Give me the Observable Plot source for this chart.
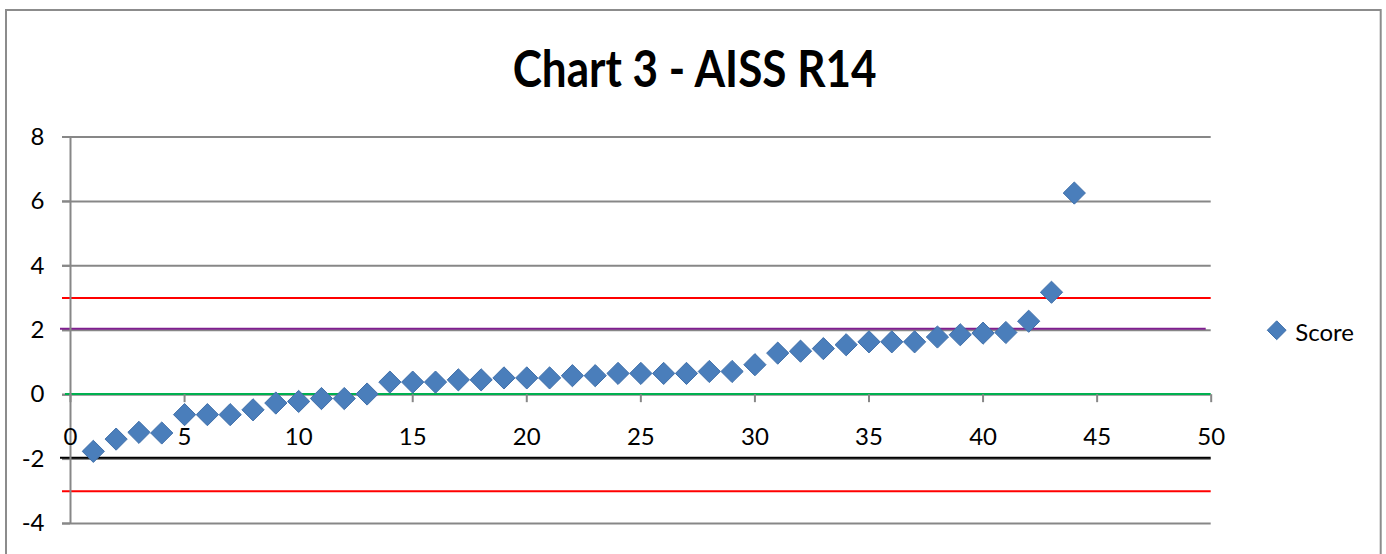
<!DOCTYPE html>
<html>
<head>
<meta charset="utf-8">
<script src="https://cdn.jsdelivr.net/npm/d3@7"></script>
<script src="https://cdn.jsdelivr.net/npm/@observablehq/plot@0.6"></script>
<style>
  html, body { margin: 0; padding: 0; background: #fff; }
  #chart { position: relative; width: 1386px; height: 554px; overflow: hidden; }
</style>
</head>
<body>
<div id="chart"></div>
<script>
// ---- data ----
const titleText = "Chart 3 - AISS R14";
const seriesName = "Score";
const rank = [1,2,3,4,5,6,7,8,9,10,11,12,13,14,15,16,17,18,19,20,21,22,23,24,25,26,27,28,29,30,31,32,33,34,35,36,37,38,39,40,41,42,43,44];
const score = [-1.76,-1.38,-1.17,-1.19,-0.62,-0.62,-0.62,-0.47,-0.26,-0.21,-0.12,-0.12,0.02,0.39,0.39,0.39,0.46,0.46,0.52,0.52,0.52,0.59,0.59,0.66,0.66,0.66,0.66,0.72,0.72,0.93,1.29,1.35,1.43,1.55,1.64,1.64,1.64,1.79,1.86,1.91,1.93,2.28,3.18,6.26];
const xTicks = [0,5,10,15,20,25,30,35,40,45,50];
const yTicks = [-4,-2,0,2,4,6,8];
const upperLimit = 3, lowerLimit = -3;
const upperWarn = 2.05, lowerWarn = -1.96;
const centreLine = 0.02;

const points = rank.map((r, i) => ({rank: r, score: score[i]}));

const gray = "#878787";
const font = "Lato, 'Open Sans', sans-serif";

const svg = Plot.plot({
  width: 1386,
  height: 554,
  marginTop: 136.5,
  marginBottom: 31,
  marginLeft: 70,
  marginRight: 175.3,
  style: {fontFamily: font, fontSize: "24px", background: "#fff", color: "#000", overflow: "visible"},
  x: {domain: [0, 50], axis: null},
  y: {domain: [-4, 8], axis: null},
  marks: [
    // gridlines
    Plot.ruleY(yTicks, {y: d => d, stroke: gray, strokeWidth: 2, insetLeft: -8}),
    // y axis ticks + labels
    Plot.axisY(yTicks, {anchor: "left", label: null, tickSize: 8, tickPadding: 18, stroke: gray, strokeWidth: 2,
      fill: "#000", fontSize: 24, tickFormat: d => String(d)}),
    // reference lines
    Plot.ruleY([upperLimit], {y: d => d, stroke: "#ff0000", strokeWidth: 2, insetLeft: -8}),
    Plot.ruleY([lowerLimit], {y: d => d, stroke: "#ff0000", strokeWidth: 2, insetLeft: -8}),
    Plot.ruleY([upperWarn], {y: d => d, stroke: "#7f1f8f", strokeWidth: 2, insetLeft: -10, insetRight: 5}),
    Plot.ruleY([lowerWarn], {y: d => d, stroke: "#000000", strokeWidth: 2, insetLeft: -10}),
    Plot.ruleY([centreLine], {y: d => d, stroke: "#00b050", strokeWidth: 2, insetLeft: -5}),
    // vertical axis line
    Plot.ruleX([0], {x: d => d, stroke: gray, strokeWidth: 2}),
    // x ticks at y = 0 crossing
    Plot.ruleX(xTicks, {x: d => d, y1: d => 0, y2: d => 0, insetBottom: -8, stroke: gray, strokeWidth: 2}),
    // x labels
    Plot.text(xTicks, {x: d => d, y: d => 0, dy: 43, text: d => String(d), fontSize: 24, fill: "#000"}),
    // data
    Plot.dot(points, {x: "rank", y: "score", symbol: "diamond2", r: 10, fill: "#4a7ebb", stroke: "#4170aa", strokeWidth: 1}),
    // legend
    Plot.dot([seriesName], {frameAnchor: "right", dx: 65.5, symbol: "diamond2", r: 8.5, fill: "#4a7ebb", stroke: "#4170aa", strokeWidth: 1}),
    Plot.text([seriesName], {frameAnchor: "right", dx: 84, dy: 3, text: d => d, textAnchor: "start", fontSize: 24, fill: "#000"})
  ]
});

const s = d3.select(svg);
// outer chart frame
s.insert("rect", ":first-child")
  .attr("x", 6).attr("y", 10).attr("width", 1374.7).attr("height", 600)
  .attr("fill", "#fff").attr("stroke", "#8c8c8c").attr("stroke-width", 2);
// title
s.append("text")
  .attr("x", 694.7).attr("y", 87)
  .attr("text-anchor", "middle")
  .attr("font-family", font)
  .attr("font-weight", "bold")
  .attr("font-size", 51)
  .attr("textLength", 364)
  .attr("lengthAdjust", "spacingAndGlyphs")
  .attr("fill", "#000")
  .text(titleText);

document.getElementById("chart").appendChild(svg);
</script>
</body>
</html>
